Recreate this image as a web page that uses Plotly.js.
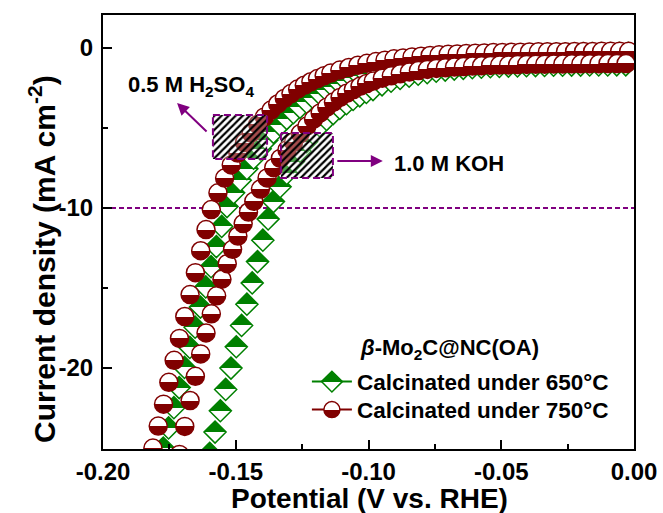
<!DOCTYPE html>
<html>
<head>
<meta charset="utf-8">
<script src="https://cdn.plot.ly/plotly-3.0.1.min.js"></script>
<style>
html,body{margin:0;padding:0;background:#fff;}
#chart{width:663px;height:513px;}
</style>
</head>
<body>
<div id="chart"></div>
<script>
// ---- Data ----
// 650 °C in 0.5 M H2SO4 (green, left)
const x650Acid = [-0.1793,-0.1773,-0.1753,-0.1733,-0.1713,-0.1693,-0.1673,-0.1653,-0.1633,-0.1613,-0.1593,-0.1573,-0.1553,
  -0.1533,-0.1508,-0.1483,-0.1458,-0.1433,-0.1408,-0.1383,-0.1358,-0.1333,-0.1308,-0.1283,-0.1258,-0.1233,-0.1208,-0.1183,-0.1158,-0.1133,-0.1108,-0.1083,-0.1058,-0.1033,-0.1008,
  -0.0974,-0.0940,-0.0906,-0.0872,-0.0838,-0.0804,-0.0770,-0.0736,-0.0702,-0.0668,-0.0634,-0.0600,-0.0566,-0.0532,-0.0498,-0.0464,-0.0430,-0.0396,-0.0362,-0.0328,-0.0294,-0.0260,-0.0226,-0.0192,-0.0158,-0.0124,-0.0090,-0.0056,-0.0022];
const y650Acid = [-26.26,-25.00,-23.74,-22.48,-21.22,-19.96,-18.71,-17.45,-16.19,-14.93,-13.67,-12.41,-11.15,
  -9.91,-9.05,-8.26,-7.54,-6.89,-6.30,-5.76,-5.27,-4.82,-4.41,-4.04,-3.71,-3.40,-3.12,-2.87,-2.64,-2.42,-2.23,-2.06,-1.90,-1.76,-1.63,
  -1.47,-1.33,-1.20,-1.09,-1.00,-0.91,-0.84,-0.78,-0.72,-0.67,-0.62,-0.58,-0.55,-0.52,-0.49,-0.47,-0.45,-0.43,-0.42,-0.40,-0.39,-0.38,-0.37,-0.36,-0.36,-0.35,-0.35,-0.34,-0.34];

// 650 °C in 1.0 M KOH (green, right)
const x650Koh = [-0.1598,-0.1578,-0.1558,-0.1538,-0.1518,-0.1498,-0.1478,-0.1458,-0.1438,-0.1418,-0.1398,-0.1378,
  -0.1358,-0.1333,-0.1308,-0.1283,-0.1258,-0.1233,-0.1208,-0.1183,-0.1158,-0.1133,-0.1108,-0.1083,-0.1058,-0.1033,-0.1008,-0.0983,
  -0.0949,-0.0915,-0.0881,-0.0847,-0.0813,-0.0779,-0.0745,-0.0711,-0.0677,-0.0643,-0.0609,-0.0575,-0.0541,-0.0507,-0.0473,-0.0439,-0.0405,-0.0371,-0.0337,-0.0303,-0.0269,-0.0235,-0.0201,-0.0167,-0.0133,-0.0099,-0.0065,-0.0031];
const y650Koh = [-25.33,-24.00,-22.67,-21.34,-20.00,-18.67,-17.34,-16.01,-14.68,-13.35,-12.01,-10.68,
  -9.60,-8.67,-7.84,-7.10,-6.45,-5.86,-5.34,-4.88,-4.47,-4.10,-3.77,-3.48,-3.22,-2.99,-2.78,-2.60,
  -2.30,-2.08,-1.90,-1.76,-1.64,-1.54,-1.45,-1.38,-1.32,-1.27,-1.23,-1.20,-1.17,-1.15,-1.13,-1.12,-1.11,-1.10,-1.09,-1.08,-1.08,-1.07,-1.07,-1.06,-1.06,-1.06,-1.05,-1.05];

// 750 °C in 0.5 M H2SO4 (red, left)
const x750Acid = [-0.1832,-0.1812,-0.1792,-0.1772,-0.1752,-0.1732,-0.1712,-0.1692,-0.1672,-0.1652,-0.1632,-0.1612,-0.1592,
  -0.1567,-0.1542,-0.1517,-0.1492,-0.1467,-0.1442,-0.1417,-0.1392,-0.1367,-0.1342,-0.1317,-0.1292,-0.1267,-0.1242,-0.1217,-0.1192,-0.1167,-0.1142,
  -0.1108,-0.1074,-0.1040,-0.1006,-0.0972,-0.0938,-0.0904,-0.0870,-0.0836,-0.0802,-0.0768,-0.0734,-0.0700,-0.0666,-0.0632,-0.0598,-0.0564,-0.0530,-0.0496,-0.0462,-0.0428,-0.0394,-0.0360,-0.0326,-0.0292,-0.0258,-0.0224,-0.0190,-0.0156,-0.0122,-0.0088,-0.0054,-0.0020];
const y750Acid = [-26.37,-25.00,-23.63,-22.26,-20.89,-19.52,-18.15,-16.78,-15.41,-14.04,-12.67,-11.35,-10.10,
  -9.05,-8.13,-7.31,-6.57,-5.91,-5.31,-4.78,-4.31,-3.88,-3.50,-3.15,-2.85,-2.57,-2.33,-2.11,-1.91,-1.73,-1.57,
  -1.38,-1.22,-1.08,-0.96,-0.85,-0.76,-0.68,-0.62,-0.56,-0.51,-0.47,-0.43,-0.40,-0.37,-0.35,-0.33,-0.31,-0.29,-0.28,-0.27,-0.26,-0.25,-0.24,-0.24,-0.23,-0.23,-0.22,-0.22,-0.22,-0.21,-0.21,-0.21,-0.21];

// 750 °C in 1.0 M KOH (red, right)
const x750Koh = [-0.1712,-0.1692,-0.1672,-0.1652,-0.1632,-0.1612,-0.1592,-0.1572,-0.1552,-0.1532,-0.1512,-0.1492,-0.1472,-0.1452,-0.1432,
  -0.1407,-0.1382,-0.1357,-0.1332,-0.1307,-0.1282,
  -0.1257,-0.1232,-0.1207,-0.1182,-0.1157,-0.1132,-0.1107,-0.1082,-0.1057,-0.1032,-0.1007,-0.0982,
  -0.0948,-0.0914,-0.0880,-0.0846,-0.0812,-0.0778,-0.0744,-0.0710,-0.0676,-0.0642,-0.0608,-0.0574,-0.0540,-0.0506,-0.0472,-0.0438,-0.0404,-0.0370,-0.0336,-0.0302,-0.0268,-0.0234,-0.0200,-0.0166,-0.0132,-0.0098,-0.0064,-0.0030];
const y750Koh = [-25.40,-23.65,-22.03,-20.52,-19.12,-17.81,-16.61,-15.49,-14.45,-13.48,-12.58,-11.75,-10.97,-10.25,-9.58,
  -8.82,-8.12,-7.48,-6.90,-6.37,-5.88,
  -5.35,-4.88,-4.45,-4.06,-3.70,-3.38,-3.09,-2.83,-2.60,-2.40,-2.22,-2.07,
  -1.89,-1.74,-1.61,-1.50,-1.41,-1.34,-1.28,-1.23,-1.19,-1.16,-1.13,-1.11,-1.09,-1.07,-1.06,-1.04,-1.03,-1.02,-1.01,-1.00,-1.00,-0.99,-0.99,-0.98,-0.98,-0.97,-0.97,-0.97];

// Highlight boxes (potential / current density corners)
const boxAcidX = [-0.1586,-0.1382,-0.1382,-0.1586,-0.1586];
const boxAcidY = [-4.19,-4.19,-6.94,-6.94,-4.19];
const boxKohX  = [-0.1330,-0.1134,-0.1134,-0.1330,-0.1330];
const boxKohY  = [-5.31,-5.31,-8.13,-8.13,-5.31];

const refCurrent = -10;
const xTickVals = [-0.20,-0.15,-0.10,-0.05,0.00];
const xTickText = ['-0.20','-0.15','-0.10','-0.05','0.00'];
const xMinorVals = [-0.175,-0.125,-0.075,-0.025];
const yTickVals = [-20,-10,0];
const yTickText = ['-20','-10','0'];
const yMinorVals = [-15,-5];
const legendNames = ['Calcinated under 650°C','Calcinated under 750°C'];

// ---- Styles ----
const FONT = 'Liberation Sans, Arial, Helvetica, sans-serif';
const GREEN = '#008000';
const RED = '#800000';
const PURPLE = '#800080';

const greenMarker = {symbol:'diamond', size:17, color:GREEN, gradient:{type:'vertical', color:'#ffffff'}, line:{color:GREEN, width:1.5}};
const redMarker = {symbol:'circle', size:18, color:'#ffffff', gradient:{type:'vertical', color:RED}, line:{color:RED, width:1.5}};

function curve(x, y, marker) {
  return {type:'scatter', mode:'markers', x:x, y:y, marker:marker, showlegend:false, hoverinfo:'skip', cliponaxis:true};
}
function box(x, y) {
  return {type:'scatter', mode:'lines', x:x, y:y, fill:'toself', fillcolor:'rgba(0,0,0,0)',
    fillpattern:{shape:'/', size:5, solidity:0.45, fgcolor:'#000000', bgcolor:'rgba(255,255,255,0.3)', fgopacity:1},
    line:{color:PURPLE, width:2, dash:'7px,4px'}, showlegend:false, hoverinfo:'skip'};
}

const traces = [
  curve(x650Acid, y650Acid, greenMarker),
  curve(x650Koh, y650Koh, greenMarker),
  curve(x750Acid, y750Acid, redMarker),
  curve(x750Koh, y750Koh, redMarker),
  box(boxAcidX, boxAcidY),
  box(boxKohX, boxKohY),
  {type:'scatter', mode:'lines+markers', x:[null], y:[null], name:legendNames[0], marker:greenMarker, line:{color:GREEN, width:2}, showlegend:true, legend:'legend'},
  {type:'scatter', mode:'lines+markers', x:[null], y:[null], name:legendNames[1], marker:redMarker, line:{color:RED, width:2}, showlegend:true, legend:'legend2'}
];

const axisCommon = {
  ticks:'inside', ticklen:9, tickwidth:2, tickcolor:'#000',
  showline:true, linewidth:2, linecolor:'#000', mirror:true,
  showgrid:false, zeroline:false,
  tickfont:{family:FONT, size:24, weight:'bold', color:'#000'}
};
const legendFont = {family:FONT, size:22.5, weight:'bold', color:'#000'};

const layout = {
  width:663, height:513,
  margin:{l:103, r:29, t:15, b:64},
  paper_bgcolor:'#fff', plot_bgcolor:'#fff',
  font:{family:FONT, color:'#000'},
  showlegend:true,
  legend:{x:0.384, y:0.1544, xanchor:'left', yanchor:'middle', bgcolor:'rgba(0,0,0,0)', borderwidth:0,
    font:legendFont, itemwidth:40},
  legend2:{x:0.384, y:0.0899, xanchor:'left', yanchor:'middle', bgcolor:'rgba(0,0,0,0)', borderwidth:0,
    font:legendFont, itemwidth:40},
  xaxis:Object.assign({}, axisCommon, {
    range:[-0.2, 0], tickmode:'array', tickvals:xTickVals, ticktext:xTickText,
    minor:{tickmode:'array', tickvals:xMinorVals, ticks:'inside', ticklen:5, tickwidth:2, tickcolor:'#000', showgrid:false}
  }),
  yaxis:Object.assign({}, axisCommon, {
    range:[-25.06, 2.06], tickmode:'array', tickvals:yTickVals, ticktext:yTickText, ticklabelstandoff:3,
    minor:{tickmode:'array', tickvals:yMinorVals, ticks:'inside', ticklen:5, tickwidth:2, tickcolor:'#000', showgrid:false}
  }),
  shapes:[
    {type:'line', layer:'below', xref:'paper', x0:0, x1:1, yref:'y', y0:refCurrent, y1:refCurrent,
     line:{color:PURPLE, width:2, dash:'5px,3px'}}
  ],
  annotations:[
    {text:'Current density (mA cm<sup>-2</sup>)', xref:'paper', yref:'paper', x:-0.1149, y:0.4378,
     textangle:-90, showarrow:false, xanchor:'center', yanchor:'middle', font:{family:FONT, size:30, weight:'bold', color:'#000'}},
    {text:'Potential (V vs. RHE)', xref:'paper', yref:'paper', x:0.5028, y:-0.1135,
     showarrow:false, xanchor:'center', yanchor:'middle', font:{family:FONT, size:28, weight:'bold', color:'#000'}},
    {text:'0.5 M H<sub>2</sub>SO<sub>4</sub>', xref:'x', yref:'y', x:-0.1913, y:-2.35,
     showarrow:false, xanchor:'left', yanchor:'middle', font:{family:FONT, size:22, weight:'bold', color:'#000'}},
    {text:'1.0 M KOH', xref:'x', yref:'y', x:-0.0912, y:-7.25,
     showarrow:false, xanchor:'left', yanchor:'middle', font:{family:FONT, size:22, weight:'bold', color:'#000'}},
    {text:'<i>β</i>-Mo<sub>2</sub>C@NC(OA)', xref:'paper', yref:'paper', x:0.4802, y:0.2304,
     showarrow:false, xanchor:'left', yanchor:'middle', font:{family:FONT, size:22, weight:'bold', color:'#000'}},
    {text:'', xref:'x', yref:'y', x:-0.1721, y:-3.44, ax:31, ay:30, showarrow:true,
     arrowhead:2, arrowsize:1.2, arrowwidth:2, arrowcolor:PURPLE, standoff:0},
    {text:'', xref:'x', yref:'y', x:-0.0946, y:-7.06, ax:-47, ay:0, showarrow:true,
     arrowhead:2, arrowsize:1.2, arrowwidth:2, arrowcolor:PURPLE, standoff:0}
  ]
};

Plotly.newPlot('chart', traces, layout, {staticPlot:true, displayModeBar:false}).then(function(gd){
  // make the half-filled markers: hard split instead of a smooth vertical blend
  gd.querySelectorAll('linearGradient').forEach(function(g){
    g.querySelectorAll('stop').forEach(function(s){ s.setAttribute('offset','50%'); });
  });
});
</script>
</body>
</html>
